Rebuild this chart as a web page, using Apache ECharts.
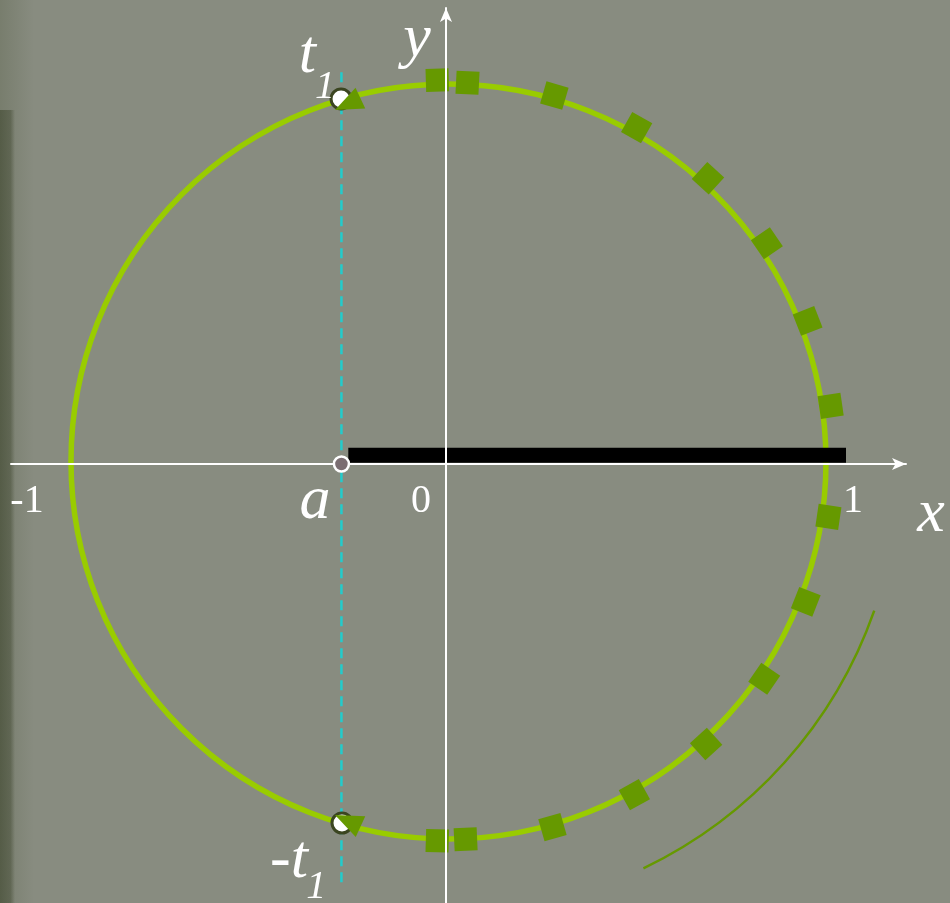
<!DOCTYPE html>
<html>
<head>
<meta charset="utf-8">
<script src="https://cdn.jsdelivr.net/npm/echarts@6/dist/echarts.min.js"></script>
<style>
html,body{margin:0;padding:0;background:#888c80;}
#chart{width:950px;height:903px;}
</style>
</head>
<body>
<div id="chart"></div>
<script>
// ---- data (in axis units) ----
const axisMin = { x: -1.15232, y: -1.16291 };
const axisMax = { x: 1.21854, y: 1.20795 };
const circleCenter = [0.0066, 0.0066];
const circleRadius = 1.0;
const pointA = -0.277;
const t1Points = [[-0.278, 0.967], [-0.2755, -0.951]];
const arrowTips = [[-0.2940, 0.9377], [-0.2940, -0.9300]];
const arrowDirections = [205, 155.6];
const squarePoints = [
  [-0.023, 1.017], [0.057, 1.010], [0.287, 0.976], [0.505, 0.891],
  [0.694, 0.757], [0.850, 0.585], [0.958, 0.379], [1.019, 0.154],
  [1.013, -0.140], [0.953, -0.365], [0.843, -0.569], [0.689, -0.742],
  [0.499, -0.876], [0.282, -0.962], [0.052, -0.994], [-0.023, -0.998]
];
const dashLineY = [1.038, -1.115];
const blackBarX = [-0.2588, 1.0596];
const blackBarY = [0.003, 0.043];
const outerArcRadius = 1.195;
const outerArcAngles = [-19.3, -64.4];
const labelTexts = ['-1', '0', '1', 'x', 'y', 'a', 't', '1', '-t', '1'];
const labelKinds = ['num', 'num', 'num', 'var', 'var', 'var', 'var', 'sub', 'var', 'sub'];
const labelX = [-1.110, -0.0662, 1.078, 1.285, -0.077, -0.347, -0.367, -0.3205, -0.416, -0.344];
const labelY = [-0.099, -0.099, -0.099, -0.134, 1.124, -0.099, 1.081, 0.9987, -1.052, -1.123];

// ---- styles ----
const FONT = '"Liberation Serif", "Times New Roman", serif';
const kindFont = {
  num: 'normal 40px ' + FONT,
  var: 'italic 62px ' + FONT,
  sub: 'italic 40px ' + FONT
};
const ARROW_LEN = 28, ARROW_BASE = 23, OPEN_R = 10;

const chart = echarts.init(document.getElementById('chart'));

const axisCommon = {
  type: 'value',
  z: 5,
  axisTick: { show: false },
  axisLabel: { show: false },
  splitLine: { show: false },
  axisLine: {
    show: true,
    onZero: true,
    symbol: ['none', 'arrow'],
    symbolSize: [9, 14],
    lineStyle: { color: '#ffffff', width: 2 }
  }
};

const option = {
  backgroundColor: '#888c80',
  animation: false,
  graphic: [
    {
      type: 'rect', z: -10, silent: true,
      shape: { x: 0, y: 0, width: 34, height: 903 },
      style: {
        fill: new echarts.graphic.LinearGradient(0, 0, 1, 0, [
          { offset: 0, color: 'rgba(90,98,74,0.35)' },
          { offset: 1, color: 'rgba(90,98,74,0)' }
        ])
      }
    },
    {
      type: 'rect', z: -9, silent: true,
      shape: { x: 0, y: 110, width: 15, height: 793 },
      style: {
        fill: new echarts.graphic.LinearGradient(0, 0, 1, 0, [
          { offset: 0, color: 'rgba(62,70,46,0.6)' },
          { offset: 0.7, color: 'rgba(62,70,46,0.45)' },
          { offset: 1, color: 'rgba(62,70,46,0)' }
        ])
      }
    }
  ],
  grid: { left: 11, right: 44, top: 8, bottom: 0, containLabel: false },
  xAxis: Object.assign({}, axisCommon, { min: axisMin.x, max: axisMax.x }),
  yAxis: Object.assign({}, axisCommon, { min: axisMin.y, max: axisMax.y }),
  series: [
    {
      type: 'custom',
      name: 'circle',
      clip: false,
      z: 2,
      data: [[circleCenter[0], circleCenter[1], circleRadius]],
      renderItem: function (params, api) {
        const c = api.coord([api.value(0), api.value(1)]);
        const r = api.size([api.value(2), 0])[0];
        return {
          type: 'circle',
          shape: { cx: c[0], cy: c[1], r: r },
          style: { fill: 'none', stroke: '#99cc00', lineWidth: 5.5 }
        };
      }
    },
    {
      type: 'custom',
      name: 'outerArc',
      clip: false,
      z: 2,
      data: [[circleCenter[0], circleCenter[1], outerArcRadius, outerArcAngles[0], outerArcAngles[1]]],
      renderItem: function (params, api) {
        const c = api.coord([api.value(0), api.value(1)]);
        const r = api.size([api.value(2), 0])[0];
        const a0 = -api.value(3) * Math.PI / 180;
        const a1 = -api.value(4) * Math.PI / 180;
        return {
          type: 'arc',
          shape: { cx: c[0], cy: c[1], r: r, startAngle: a0, endAngle: a1, clockwise: true },
          style: { fill: 'none', stroke: '#669900', lineWidth: 2.5 }
        };
      }
    },
    {
      type: 'custom',
      name: 'bar',
      clip: false,
      z: 3,
      data: [[blackBarX[0], blackBarY[0], blackBarX[1], blackBarY[1]]],
      renderItem: function (params, api) {
        const p0 = api.coord([api.value(0), api.value(3)]);
        const p1 = api.coord([api.value(2), api.value(1)]);
        return {
          type: 'rect',
          shape: { x: p0[0], y: p0[1], width: p1[0] - p0[0], height: p1[1] - p0[1] },
          style: { fill: '#000000' }
        };
      }
    },
    {
      type: 'line',
      name: 'dash',
      z: 3,
      symbol: 'none',
      silent: true,
      data: [[pointA, dashLineY[0]], [pointA, dashLineY[1]]],
      lineStyle: { color: '#22cccc', width: 2.5, type: [10, 6], opacity: 1 }
    },
    {
      type: 'scatter',
      name: 'squares',
      clip: false,
      z: 3,
      symbol: 'rect',
      symbolSize: 23,
      itemStyle: { color: '#669900', opacity: 1 },
      data: squarePoints.map(function (p) {
        return {
          value: p,
          symbolRotate: Math.atan2(p[1] - circleCenter[1], p[0] - circleCenter[0]) * 180 / Math.PI
        };
      })
    },
    {
      type: 'custom',
      name: 't1 + arrows',
      clip: false,
      z: 7,
      data: t1Points.map(function (p, i) {
        return [p[0], p[1], arrowTips[i][0], arrowTips[i][1], arrowDirections[i]];
      }),
      renderItem: function (params, api) {
        const c = api.coord([api.value(0), api.value(1)]);
        const t = api.coord([api.value(2), api.value(3)]);
        const a = api.value(4) * Math.PI / 180;
        const dx = Math.cos(a), dy = -Math.sin(a);
        const bx = t[0] - ARROW_LEN * dx, by = t[1] - ARROW_LEN * dy;
        const px = -dy * ARROW_BASE / 2, py = dx * ARROW_BASE / 2;
        return {
          type: 'group',
          children: [
            {
              type: 'circle', z2: 1,
              shape: { cx: c[0], cy: c[1], r: OPEN_R },
              style: { fill: '#ffffff', stroke: '#3b4520', lineWidth: 3 }
            },
            {
              type: 'polygon', z2: 2,
              shape: { points: [[t[0], t[1]], [bx + px, by + py], [bx - px, by - py]] },
              style: { fill: '#669900' }
            }
          ]
        };
      }
    },
    {
      type: 'scatter',
      name: 'a',
      clip: false,
      z: 8,
      symbol: 'circle',
      symbolSize: 15,
      itemStyle: { color: '#7b6e72', borderColor: '#ffffff', borderWidth: 2.5, opacity: 1 },
      data: [[pointA, 0]]
    },
    {
      type: 'custom',
      name: 'labels',
      clip: false,
      z: 10,
      data: labelTexts.map(function (t, i) { return [labelX[i], labelY[i], i]; }),
      renderItem: function (params, api) {
        const i = api.value(2);
        const c = api.coord([api.value(0), api.value(1)]);
        return {
          type: 'text',
          x: c[0], y: c[1],
          style: {
            text: labelTexts[i],
            font: kindFont[labelKinds[i]],
            fill: '#ffffff',
            align: 'center',
            verticalAlign: 'middle'
          }
        };
      }
    }
  ]
};
chart.setOption(option);
</script>
</body>
</html>
